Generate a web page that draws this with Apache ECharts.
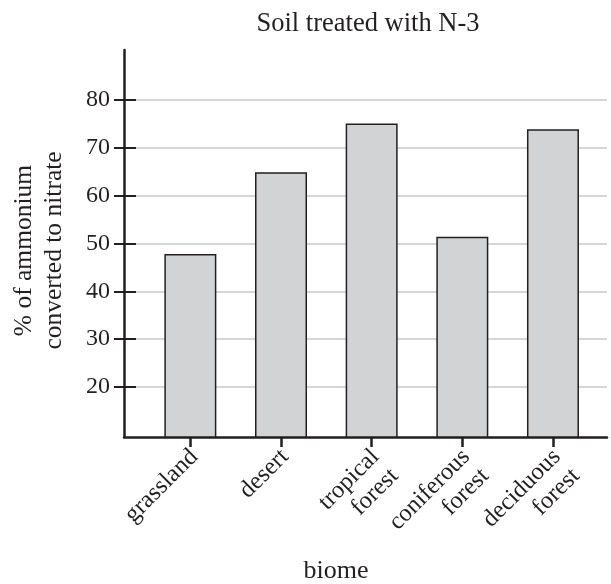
<!DOCTYPE html>
<html>
<head>
<meta charset="utf-8">
<script src="https://cdn.jsdelivr.net/npm/echarts@6/dist/echarts.min.js"></script>
<style>
  html, body { margin: 0; padding: 0; background: #fff; }
  #chart { width: 611px; height: 584px; }
</style>
</head>
<body>
<div id="chart"></div>
<script>
// biome categories and % of ammonium converted to nitrate
const biomes = ['grassland', 'desert', 'tropical\nforest', 'coniferous\nforest', 'deciduous\nforest']
const converted = [47.8, 64.9, 75.1, 51.4, 73.9]
const yTicks = [20, 30, 40, 50, 60, 70, 80]

const ink = '#231f20'
const font = 'Liberation Serif'

const chart = echarts.init(document.getElementById('chart'))

const positions = biomes.map((b, i) => i)

chart.setOption({
  animation: false,
  textStyle: { fontFamily: font, color: ink },
  title: {
    text: 'Soil treated with N-3',
    left: 363,
    top: 6,
    textAlign: 'center',
    textStyle: { fontFamily: font, fontWeight: 'normal', fontSize: 26.5, color: ink }
  },
  graphic: [{
    type: 'text',
    x: 336,
    y: 571,
    style: {
      text: 'biome',
      font: '26px "Liberation Serif"',
      fill: ink,
      align: 'center',
      verticalAlign: 'middle'
    }
  }],
  grid: {
    left: 124,
    right: 4,
    top: 50,
    bottom: 147
  },
  xAxis: {
    type: 'value',
    min: -0.732,
    max: 4.596,
    splitLine: { show: false },
    axisLine: { show: true, onZero: false, lineStyle: { color: ink, width: 2.5 } },
    axisTick: {
      show: true,
      length: 10,
      customValues: positions,
      lineStyle: { color: ink, width: 2.5 }
    },
    axisLabel: {
      customValues: positions,
      rotate: 45,
      margin: 1,
      verticalAlign: 'top',
      padding: [0, 8, 0, 0],
      fontFamily: font,
      fontSize: 24.5,
      lineHeight: 27,
      color: ink,
      formatter: v => biomes[Math.round(v)]
    }
  },
  yAxis: [{
    type: 'value',
    min: 9.5,
    max: 90.5,
    name: '% of ammonium\nconverted to nitrate',
    nameLocation: 'middle',
    nameGap: 55,
    nameTextStyle: { fontFamily: font, fontSize: 25.5, lineHeight: 30, color: ink, padding: [0, 14, 0, 0] },
    axisLine: { show: true, onZero: false, lineStyle: { color: ink, width: 2.5 } },
    axisTick: {
      show: true,
      length: 10,
      customValues: yTicks,
      lineStyle: { color: ink, width: 2 }
    },
    axisLabel: {
      customValues: yTicks,
      margin: 14,
      fontFamily: font,
      fontSize: 24,
      color: ink
    },
    splitLine: { show: true, lineStyle: { color: '#c7c8ca', width: 1.5 } }
  }, {
    type: 'value',
    min: 9.5,
    max: 90.5,
    position: 'left',
    axisLine: { show: false, onZero: false },
    axisTick: {
      show: true,
      inside: true,
      length: 12,
      customValues: yTicks,
      lineStyle: { color: ink, width: 2 }
    },
    axisLabel: { show: false },
    splitLine: { show: false }
  }],
  series: [{
    type: 'bar',
    data: converted.map((v, i) => [i, v]),
    barWidth: 52,
    itemStyle: { color: '#d1d3d4', borderColor: ink, borderWidth: 1.5 }
  }]
})
</script>
</body>
</html>
